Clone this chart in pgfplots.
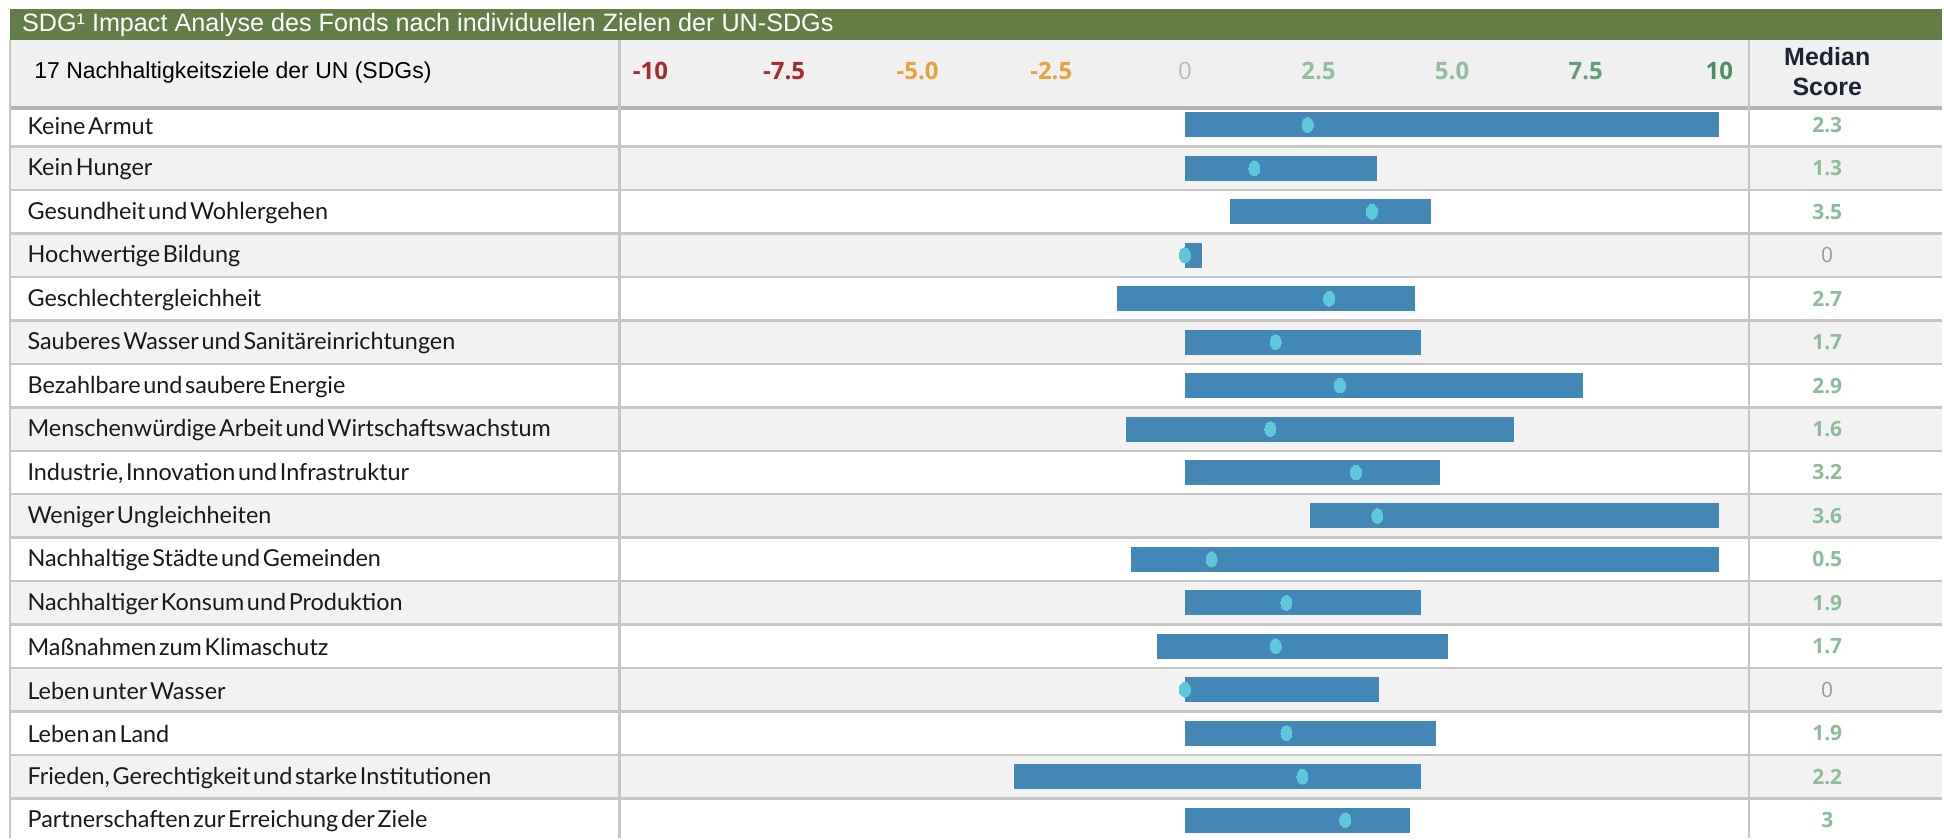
\documentclass[border=0pt]{standalone}
\usepackage{fontspec}
\setmainfont{Liberation Sans}
\newfontfamily\labfont[WordSpace=0.45]{Lato}
\newfontfamily\numfont{Open Sans}
\usepackage{pgfplots}
\usepackage{pgfplotstable}
\pgfplotsset{compat=1.18}

\definecolor{titlegreen}{HTML}{637D46}
\definecolor{headgray}{HTML}{F0F0F0}
\definecolor{rowgray}{HTML}{F2F2F2}
\definecolor{linegray}{HTML}{C6C6C6}
\definecolor{barblue}{HTML}{4287B5}
\definecolor{dotcyan}{HTML}{5EC8D8}
\definecolor{cred}{HTML}{A82A2E}
\definecolor{corange}{HTML}{E6A23C}
\definecolor{czero}{HTML}{B9B9B9}
\definecolor{cgl}{HTML}{8FBF9F}
\definecolor{cgm}{HTML}{639E78}
\definecolor{cgd}{HTML}{4F8B63}
\definecolor{medgreen}{HTML}{8DBC9A}
\definecolor{medzero}{HTML}{9A9A9A}
\definecolor{headnavy}{HTML}{1C2333}

\pgfplotstableread{
row lo hi med
1 0 10 2.3
2 0 3.6 1.3
3 0.85 4.6 3.5
4 0 0.32 0
5 -1.27 4.3 2.7
6 0 4.41 1.7
7 0 7.45 2.9
8 -1.11 6.16 1.6
9 0 4.78 3.2
10 2.34 10 3.6
11 -1.0 10 0.5
12 0 4.41 1.9
13 -0.53 4.93 1.7
14 0 3.64 0
15 0 4.7 1.9
16 -3.2 4.41 2.2
17 0 4.22 3
}\sdgdata

\begin{document}
\begin{tikzpicture}
\begin{axis}[
  width=972pt, height=419.5pt, scale only axis,
  xmin=-22.168, xmax=14.168, ymin=-1.874, ymax=17.414, y dir=reverse,
  axis line style={draw=none}, major tick length=0pt,
  axis on top,
  /pgf/number format/assume math mode=true,
  xtick=\empty,
  ytick={1,...,17},
  yticklabels={Keine Armut, Kein Hunger, Gesundheit und Wohlergehen, Hochwertige Bildung, Geschlechtergleichheit, Sauberes Wasser und Sanitäreinrichtungen, Bezahlbare und saubere Energie, Menschenwürdige Arbeit und Wirtschaftswachstum, {Industrie, Innovation und Infrastruktur}, Weniger Ungleichheiten, Nachhaltige Städte und Gemeinden, Nachhaltiger Konsum und Produktion, Maßnahmen zum Klimaschutz, Leben unter Wasser, Leben an Land, {Frieden, Gerechtigkeit und starke Institutionen}, Partnerschaften zur Erreichung der Ziele},
  yticklabel style={anchor=west, xshift=13.5pt, yshift=-0.5pt, inner sep=0pt, text=black!90, font=\labfont\fontsize{11.7}{13}\selectfont},
  clip=false,
]
% backgrounds
\fill[white] (axis cs:-22.168,-1.874) rectangle (axis cs:14.168,17.414);
\fill[titlegreen] (axis cs:-21.98,-1.667) rectangle (axis cs:14.168,-0.954);
\fill[headgray] (axis cs:-21.98,-0.954) rectangle (axis cs:14.168,0.609);
\fill[rowgray] (axis cs:-21.98,1.5) rectangle (axis cs:14.168,2.5);
\fill[rowgray] (axis cs:-21.98,3.5) rectangle (axis cs:14.168,4.5);
\fill[rowgray] (axis cs:-21.98,5.5) rectangle (axis cs:14.168,6.5);
\fill[rowgray] (axis cs:-21.98,7.5) rectangle (axis cs:14.168,8.5);
\fill[rowgray] (axis cs:-21.98,9.5) rectangle (axis cs:14.168,10.5);
\fill[rowgray] (axis cs:-21.98,11.5) rectangle (axis cs:14.168,12.5);
\fill[rowgray] (axis cs:-21.98,13.5) rectangle (axis cs:14.168,14.5);
\fill[rowgray] (axis cs:-21.98,15.5) rectangle (axis cs:14.168,16.5);
% row separators
\draw[linegray, line width=1.2pt] (axis cs:-21.98,1.5) -- (axis cs:14.168,1.5);
\draw[linegray, line width=1.2pt] (axis cs:-21.98,2.5) -- (axis cs:14.168,2.5);
\draw[linegray, line width=1.2pt] (axis cs:-21.98,3.5) -- (axis cs:14.168,3.5);
\draw[linegray, line width=1.2pt] (axis cs:-21.98,4.5) -- (axis cs:14.168,4.5);
\draw[linegray, line width=1.2pt] (axis cs:-21.98,5.5) -- (axis cs:14.168,5.5);
\draw[linegray, line width=1.2pt] (axis cs:-21.98,6.5) -- (axis cs:14.168,6.5);
\draw[linegray, line width=1.2pt] (axis cs:-21.98,7.5) -- (axis cs:14.168,7.5);
\draw[linegray, line width=1.2pt] (axis cs:-21.98,8.5) -- (axis cs:14.168,8.5);
\draw[linegray, line width=1.2pt] (axis cs:-21.98,9.5) -- (axis cs:14.168,9.5);
\draw[linegray, line width=1.2pt] (axis cs:-21.98,10.5) -- (axis cs:14.168,10.5);
\draw[linegray, line width=1.2pt] (axis cs:-21.98,11.5) -- (axis cs:14.168,11.5);
\draw[linegray, line width=1.2pt] (axis cs:-21.98,12.5) -- (axis cs:14.168,12.5);
\draw[linegray, line width=1.2pt] (axis cs:-21.98,13.5) -- (axis cs:14.168,13.5);
\draw[linegray, line width=1.2pt] (axis cs:-21.98,14.5) -- (axis cs:14.168,14.5);
\draw[linegray, line width=1.2pt] (axis cs:-21.98,15.5) -- (axis cs:14.168,15.5);
\draw[linegray, line width=1.2pt] (axis cs:-21.98,16.5) -- (axis cs:14.168,16.5);
\draw[linegray!90!black, line width=2pt] (axis cs:-21.98,0.609) -- (axis cs:14.168,0.609);
% vertical dividers
\draw[linegray, line width=1.2pt] (axis cs:-21.98,-0.954) -- (axis cs:-21.98,17.414);
\draw[linegray, line width=1.2pt] (axis cs:-10.58,-0.954) -- (axis cs:-10.58,17.414);
\draw[linegray, line width=1.2pt] (axis cs:10.56,-0.954) -- (axis cs:10.56,17.414);
% title and header
\node[anchor=west, text=white, font=\fontsize{12.6}{15}\selectfont] at (axis cs:-21.89,-1.31) {SDG¹ Impact Analyse des Fonds nach individuellen Zielen der UN-SDGs};
\node[anchor=west, text=black, font=\fontsize{11.5}{13}\selectfont] at (axis cs:-21.66,-0.195) {17 Nachhaltigkeitsziele der UN (SDGs)};
\node[align=center, text=headnavy, font=\bfseries\fontsize{12.5}{15}\selectfont] at (axis cs:12.02,-0.218) {Median\\Score};
% x tick labels
\node[text=cred, font=\numfont\bfseries\fontsize{12}{14}\selectfont] at (axis cs:-10,-0.241) {-10};
\node[text=cred, font=\numfont\bfseries\fontsize{12}{14}\selectfont] at (axis cs:-7.5,-0.241) {-7.5};
\node[text=corange, font=\numfont\bfseries\fontsize{12}{14}\selectfont] at (axis cs:-5,-0.241) {-5.0};
\node[text=corange, font=\numfont\bfseries\fontsize{12}{14}\selectfont] at (axis cs:-2.5,-0.241) {-2.5};
\node[text=czero, font=\numfont\fontsize{12}{14}\selectfont] at (axis cs:0,-0.241) {0};
\node[text=cgl, font=\numfont\bfseries\fontsize{12}{14}\selectfont] at (axis cs:2.5,-0.241) {2.5};
\node[text=cgl, font=\numfont\bfseries\fontsize{12}{14}\selectfont] at (axis cs:5,-0.241) {5.0};
\node[text=cgm, font=\numfont\bfseries\fontsize{12}{14}\selectfont] at (axis cs:7.5,-0.241) {7.5};
\node[text=cgd, font=\numfont\bfseries\fontsize{12}{14}\selectfont] at (axis cs:10,-0.241) {10};

% range bars (min to max)
\addplot[draw=none, mark=none, forget plot,
  error bars/.cd, x dir=plus, x explicit, error mark=none,
  error bar style={line width=12.5pt, draw=barblue, solid}]
  table[x=lo, y=row, x error expr=\thisrow{hi}-\thisrow{lo}] {\sdgdata};
% median dots
\addplot[only marks, color=dotcyan, mark=*, mark size=3.7pt,
  mark options={fill=dotcyan, draw=dotcyan, line width=0pt, xscale=0.75}]
  table[x=med, y=row] {\sdgdata};
% median score column
\addplot[only marks, mark=none, nodes near coords, point meta=explicit,
  nodes near coords align={center},
  every node near coord/.append style={font=\numfont\bfseries\fontsize{10.5}{12}\selectfont, text=medgreen},
  restrict expr to domain={\thisrow{med}}{0.01:100}]
  table[x expr=12.02, y=row, meta=med] {\sdgdata};
\addplot[only marks, mark=none, nodes near coords, point meta=explicit,
  nodes near coords align={center},
  every node near coord/.append style={font=\numfont\fontsize{10.5}{12}\selectfont, text=medzero},
  restrict expr to domain={\thisrow{med}}{-0.01:0.01}]
  table[x expr=12.02, y=row, meta=med] {\sdgdata};
\end{axis}
\end{tikzpicture}
\end{document}
